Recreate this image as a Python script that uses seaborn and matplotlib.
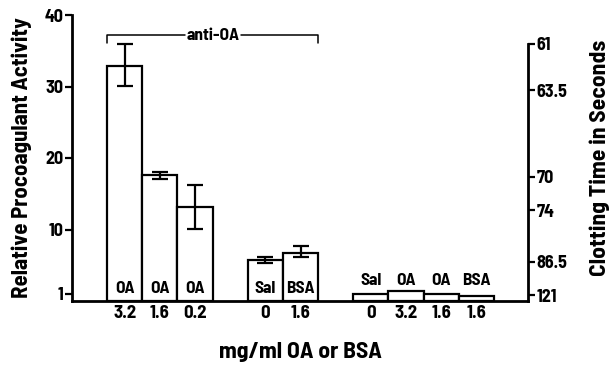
import matplotlib
matplotlib.use("Agg")
import matplotlib.pyplot as plt
import seaborn as sns
import pandas as pd
import numpy as np

# ---- data ----
positions = [0, 1, 2, 4, 5, 7, 8, 9, 10]
values = [32.9, 17.6, 13.1, 5.7, 6.7, 1.0, 1.4, 0.95, 0.75]
err_low = [2.8, 0.5, 3.0, 0.45, 0.6, 0, 0, 0, 0]
err_high = [3.0, 0.5, 3.1, 0.45, 1.0, 0, 0, 0, 0]
agents = ["OA", "OA", "OA", "Sal", "BSA", "Sal", "OA", "OA", "BSA"]
doses = ["3.2", "1.6", "0.2", "0", "1.6", "0", "3.2", "1.6", "1.6"]
left_ticks = [1, 10, 20, 30, 40]
right_tick_pos = [36.0, 29.5, 17.4, 12.7, 5.5, 0.8]
right_tick_labels = ["61", "63.5", "70", "74", "86.5", "121"]

sns.set_style("ticks")
plt.rcParams["font.family"] = ["Barlow Semi Condensed", "DejaVu Sans"]
plt.rcParams["font.weight"] = "bold"
plt.rcParams["text.color"] = "black"
plt.rcParams["axes.labelcolor"] = "black"
plt.rcParams["xtick.color"] = "black"
plt.rcParams["ytick.color"] = "black"
plt.rcParams["axes.edgecolor"] = "black"

df = pd.DataFrame({"pos": positions, "val": values})

fig = plt.figure(figsize=(6.13, 3.67), dpi=100)
ax = fig.add_axes([72 / 613, 1 - 301 / 367, (528 - 72) / 613, (301 - 15) / 367])

sns.barplot(data=df, x="pos", y="val", native_scale=True, width=1,
            color="white", edgecolor="black", linewidth=1.6, ax=ax,
            errorbar=None, saturation=1)

n_err = 5
ax.errorbar(positions[:n_err], values[:n_err],
            yerr=[err_low[:n_err], err_high[:n_err]],
            fmt="none", ecolor="black", elinewidth=1.6, capsize=6, capthick=1.6)

ax.set_xlim(-1.5, 11.47)
ax.set_ylim(0, 40)
ax.set_yticks(left_ticks)
ax.set_yticklabels([str(t) for t in left_ticks], fontsize=13, fontweight="bold")
ax.tick_params(axis="y", direction="out", length=5, width=1.6, pad=1)
ax.set_xticks(positions)
ax.set_xticklabels(doses, fontsize=13.5, fontweight="bold")
ax.tick_params(axis="x", length=0, pad=3)
ax.set_xlabel("mg/ml OA or BSA", fontsize=17, fontweight="bold", labelpad=14)
ax.set_ylabel("Relative Procoagulant Activity", fontsize=16.5, fontweight="bold", labelpad=9)
for s in ["left", "bottom"]:
    ax.spines[s].set_linewidth(2)
ax.spines["top"].set_visible(False)
ax.spines["right"].set_visible(False)

# agent labels
for p, v, a in zip(positions, values, agents):
    y = 1.7 if v > 4 else 2.9
    ax.text(p, y, a, ha="center", va="center", fontsize=12.5, fontweight="bold")

# anti-OA bracket
x0, x1 = positions[0] - 0.5, positions[4] + 0.5
ytop, ybot = 37.2, 36.1
xm = (x0 + x1) / 2
ax.plot([x0, x0, xm - 0.8], [ybot, ytop, ytop], color="black", lw=1.1, clip_on=False)
ax.plot([xm + 0.8, x1, x1], [ytop, ytop, ybot], color="black", lw=1.1, clip_on=False)
ax.text(xm, ytop, "anti-OA", ha="center", va="center", fontsize=12.5, fontweight="bold")

# right axis
ax2 = ax.twinx()
ax2.set_ylim(0, 40)
ax2.set_yticks(right_tick_pos)
ax2.set_yticklabels(right_tick_labels, fontsize=13, fontweight="bold")
ax2.tick_params(axis="y", direction="out", length=5, width=1.6, pad=1)
for s in ["left", "top", "bottom"]:
    ax2.spines[s].set_visible(False)
ax2.spines["right"].set_linewidth(2)
ax2.spines["right"].set_bounds(0, right_tick_pos[0])
ax2.set_ylabel("Clotting Time in Seconds", fontsize=17, fontweight="bold", labelpad=16)

fig.savefig("out.png", dpi=100)
